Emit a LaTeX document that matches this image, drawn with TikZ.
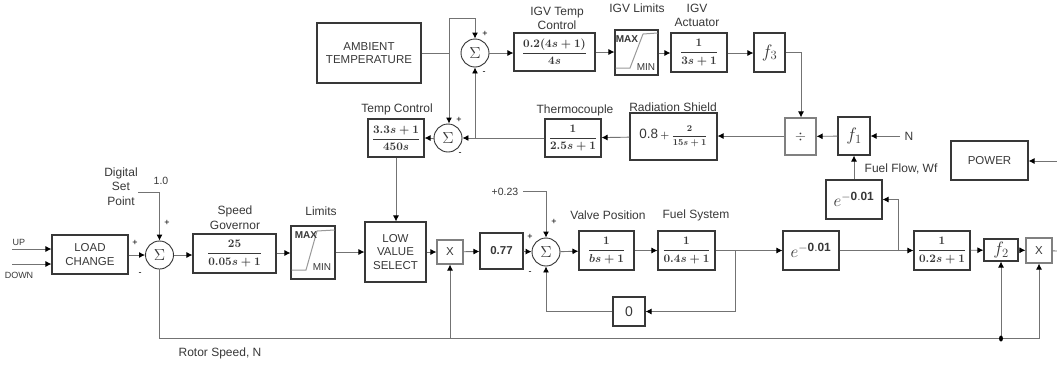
\RequirePackage{fix-cm}
\documentclass[tikz,border=0pt]{standalone}
\usepackage{amsmath}
\usepackage{fontspec}
\setmainfont{Liberation Sans}
\usetikzlibrary{arrows.meta}
\definecolor{ln}{gray}{0.45}
\definecolor{tx}{gray}{0.22}
\tikzset{
  x=1pt,y=-1pt,
  lbl/.style={font=\fontsize{12}{14.5}\selectfont,text=tx,align=center,inner sep=0pt},
  sml/.style={font=\fontsize{9}{10}\selectfont,text=tx,inner sep=0pt},
  sgn/.style={font=\fontsize{9}{10}\selectfont,text=black,inner sep=0pt},
  blk/.style={draw=black!78,line width=1.1pt,fill=white,inner sep=0pt,align=center,text=tx,font=\fontsize{11.5}{13.8}\selectfont},
  lite/.style={blk,draw=black!50},
  sumn/.style={circle,draw=black!80,line width=0.9pt,fill=white,minimum size=28pt,inner sep=0pt,font=\fontsize{16}{16}\selectfont,text=tx},
  wire/.style={draw=ln,line width=0.9pt},
  arr/.style={wire,-{Latex[length=6pt,width=6pt,black]}},
  lim/.style={draw=black!40,line width=1pt},
}
\newcommand{\blockat}[6]{\node[#1,minimum width=#4pt-#3pt,minimum height=#6pt-#5pt] (#2) at ({(#3+#4)/2},{(#5+#6)/2})}
\newcommand{\tfrc}[2]{\mbox{\boldmath$\displaystyle\frac{#1}{#2}$}}
\newcommand{\expo}{\fontsize{17}{17}\selectfont $e^{\mathbf{-0.01}}$}
\newcommand{\fn}[1]{\fontsize{18}{18}\selectfont $#1$}
\begin{document}
\begin{tikzpicture}
\useasboundingbox (0,0) rectangle (1057,365);
\fill[white] (0,0) rectangle (1057,365);

% blocks
\blockat{blk}{load}{52}{128}{235}{274} {LOAD\\CHANGE};
\blockat{blk}{gov}{193}{276}{234}{273} {\tfrc{25}{0.05s+1}};
\blockat{blk}{lims}{291}{335}{226}{279} {};
\blockat{blk}{low}{365}{426}{222}{282} {LOW\\VALUE\\SELECT};
\blockat{lite}{x1}{437}{463}{240}{264} {X};
\blockat{blk}{gain}{480}{523}{233}{269} {\textbf{0.77}};
\blockat{blk}{valve}{579}{634}{231}{270} {\tfrc{1}{bs+1}};
\blockat{blk}{fuel}{658}{715}{231}{270} {\tfrc{1}{0.4s+1}};
\blockat{blk}{zero}{613}{645}{297}{326} {\fontsize{14}{14}\selectfont 0};
\blockat{blk}{ea}{783}{839}{231}{270} {\expo};
\blockat{blk}{eb}{826}{882}{180}{219} {\expo};
\blockat{blk}{comp}{914}{970}{231}{270} {\tfrc{1}{0.2s+1}};
\blockat{blk}{ftwo}{984}{1018}{239}{261} {\fn{f_2}};
\blockat{lite}{x2}{1026}{1052}{238}{263} {X};
\blockat{blk}{fone}{838}{870}{117}{155} {\fn{f_1}};
\blockat{lite}{dv}{785}{816}{118}{155} {\fontsize{14}{14}\selectfont $\div$};
\blockat{blk}{power}{951}{1028}{141}{180} {POWER};
\blockat{blk}{amb}{317}{421}{23}{83} {AMBIENT\\TEMPERATURE};
\blockat{blk}{tc}{368}{424}{119}{157} {\tfrc{3.3s+1}{450s}};
\blockat{blk}{thc}{545}{601}{119}{157} {\tfrc{1}{2.5s+1}};
\blockat{blk}{rad}{630}{717}{113}{160} {\fontsize{13.5}{13.5}\selectfont 0.8\,\mbox{\fontsize{10}{10}\selectfont$\boldsymbol{+}$}\,\mbox{\fontsize{9}{9}\selectfont\boldmath$\displaystyle\frac{2}{15s+1}$}};
\blockat{blk}{igt}{514}{595}{33}{71} {\tfrc{0.2(4s+1)}{4s}};
\blockat{blk}{igl}{615}{658}{30}{75} {};
\blockat{blk}{iga}{671}{727}{33}{72} {\tfrc{1}{3s+1}};
\blockat{blk}{fthree}{754}{785}{33}{72} {\fn{f_3}};

\node[sumn] (s1) at (159.5,255) {$\Sigma$};
\node[sumn] (s2) at (546,252) {$\Sigma$};
\node[sumn] (s3) at (475,53) {$\Sigma$};
\node[sumn] (s4) at (448,138) {$\Sigma$};

% limiter inner
\draw[lim] (291.5,270) -- (306,270) -- (317,231) -- (334.5,230);
\node[lbl,font=\fontsize{10}{10}\selectfont\bfseries] (maxa) at (306,235) {MAX};
\node[lbl,font=\fontsize{10}{10}\selectfont] (mina) at (322,267) {MIN};
\draw[lim] (615.5,68) -- (630,68) -- (643,34) -- (657.5,33);
\node[lbl,font=\fontsize{10}{10}\selectfont\bfseries] (maxb) at (627,39) {MAX};
\node[lbl,font=\fontsize{10}{10}\selectfont] (minb) at (646,67) {MIN};

% labels
\node[sml] (up) at (19,242) {UP};
\node[sml] (down) at (19,275) {DOWN};
\node[lbl] (dsp) at (121,186.5) {Digital\\Set\\Point};
\node[lbl,font=\fontsize{10.5}{10.5}\selectfont] (one) at (161,181) {1.0};
\node[lbl] (lsg) at (235,217.5) {Speed\\Governor};
\node[lbl] (llim) at (321,211) {Limits};
\node[lbl] (lrs) at (220,353) {Rotor Speed, N};
\node[lbl,font=\fontsize{10.5}{10.5}\selectfont] (p23) at (505,192) {+0.23};
\node[lbl] (lvp) at (608,215) {Valve Position};
\node[lbl] (lfs) at (696,215) {Fuel System};
\node[lbl] (lff) at (901,169) {Fuel Flow, Wf};
\node[lbl] (ln) at (909,136) {N};
\node[lbl] (ltc) at (397,109) {Temp Control};
\node[lbl] (lth) at (575,110) {Thermocouple};
\node[lbl] (lrd) at (673,107) {Radiation Shield};
\node[lbl] (lit) at (557,18.5) {IGV Temp\\Control};
\node[lbl] (lil) at (637,8) {IGV Limits};
\node[lbl] (lia) at (697,15.5) {IGV\\Actuator};

% signs
\foreach \n/\a/\b/\s in {a/135/243/+,b/140/274/-,c/167/223/+,d/554/222/+,e/530/237/+,f/530/273/-,g/485/34/+,h/484/73/-,i/459/120/+,j/460/154/-}
  \node[sgn] (sg\n) at (\a,\b) {\s};

% coordinates
\coordinate (upin) at (12,249);
\coordinate (dnin) at (12,264);
\coordinate (spa) at (138,192);
\coordinate (spb) at (159.5,192);
\coordinate (pa) at (523,191);
\coordinate (pb) at (546,191);
\coordinate (jf) at (735,251);
\coordinate (jn) at (898,251);
\coordinate (nin) at (900,136);
\coordinate (pin) at (1057,161);
\coordinate (out) at (1057,251);
\coordinate (rb) at (159.5,338.5);
\coordinate (rx) at (450,338.5);
\coordinate (rd) at (1001,338.5);
\coordinate (rr) at (1039,338.5);
\coordinate (aj) at (449,53);
\coordinate (at) at (449,18);
\coordinate (att) at (475,18);
\coordinate (tj) at (475,138);
\coordinate (f3a) at (801,52);

% connectors
\draw[arr] (upin) -- (load.west |- upin);
\draw[arr] (dnin) -- (load.west |- dnin);
\draw[arr] (load.east |- s1) -- (s1);
\draw[arr] (spa) -- (spb) -- (s1);
\draw[arr] (s1) -- (gov.west |- s1);
\draw[arr] (gov.east |- 0,253) -- (lims.west |- 0,253);
\draw[arr] (lims.east |- 0,252) -- (low.west |- 0,252);
\draw[arr] (low.east |- x1) -- (x1);
\draw[arr] (x1) -- (gain);
\draw[arr] (gain) -- (s2);
\draw[arr] (pa) -- (pb) -- (s2);
\draw[arr] (s2) -- (valve);
\draw[arr] (valve) -- (fuel);
\draw[arr] (fuel) -- (ea);
\draw[arr] (jf) |- (zero);
\draw[arr] (zero) -| (s2);
\draw[arr] (ea) -- (comp);
\draw[arr] (jn) |- (eb);
\draw[arr] (comp) -- (ftwo);
\draw[arr] (ftwo) -- (x2);
\draw[wire] (x2) -- (out);
\draw[arr] (pin) -- (power.east |- pin);
\draw[arr] (eb.north -| fone) -- (fone);
\draw[arr] (fone) -- (dv);
\draw[arr] (nin) -- (fone.east |- nin);
\draw[arr] (dv.west |- 0,136) -- (rad.east |- 0,136);
\draw[arr] (rad) -- (thc);
\draw[arr] (thc) -- (s4);
\draw[arr] (tj) -- (s3);
\draw[arr] (s4) -- (tc);
\draw[arr] (tc.south) -- (low.north -| tc.south);
\draw[wire] (amb.east |- aj) -- (aj);
\draw[arr] (aj) -- (at) -- (att) -- (s3);
\draw[arr] (aj) -- (aj |- s4.north);
\draw[arr] (s3) -- (igt.west |- s3);
\draw[arr] (igt.east |- 0,52) -- (igl.west |- 0,52);
\draw[arr] (igl.east |- 0,53) -- (iga.west |- 0,53);
\draw[arr] (iga.east |- 0,53) -- (fthree.west |- 0,53);
\draw[arr] (fthree.east |- f3a) -- (f3a) -- (dv.north -| f3a);
\draw[wire] (s1) -- (rb) -- (rd);
\draw[arr] (rx) -- (x1.south -| rx);
\draw[arr] (rd) -- (ftwo.south -| rd);
\draw[arr] (rd) -- (rr) -- (x2.south -| rr);
\fill[black] (rd) ellipse (2pt and 3pt);
\end{tikzpicture}
\end{document}
